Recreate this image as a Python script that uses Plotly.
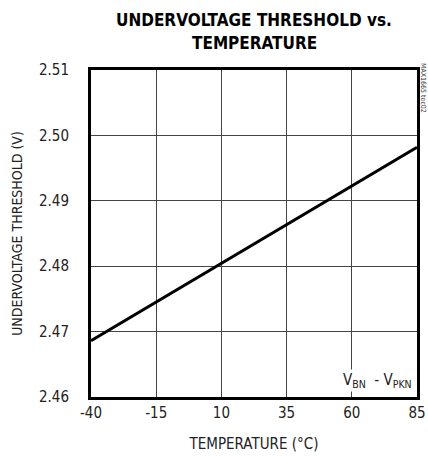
import plotly.graph_objects as go

temperature = [-40, 85]
threshold = [2.4686, 2.4982]
x_ticks = [-40, -15, 10, 35, 60, 85]
x_tick_labels = ["-40", "-15", "10", "35", "60", "85"]
y_ticks = [2.46, 2.47, 2.48, 2.49, 2.50, 2.51]
y_tick_labels = ["2.46", "2.47", "2.48", "2.49", "2.50", "2.51"]

FONT = "DejaVu Sans Condensed, Liberation Sans Narrow, Arial Narrow, Liberation Sans, sans-serif"

fig = go.Figure()
fig.add_trace(go.Scatter(x=temperature, y=threshold, mode="lines",
                         line=dict(color="black", width=3), showlegend=False))

fig.update_layout(
    width=428, height=458,
    margin=dict(l=91, r=11, t=70, b=61),
    paper_bgcolor="white", plot_bgcolor="white",
    font=dict(family=FONT, size=14, color="#222"),
    xaxis=dict(range=[-40, 85], tickvals=x_ticks, ticktext=x_tick_labels, showgrid=True,
               gridcolor="#444", gridwidth=1, zeroline=False, automargin=False,
               showline=True, linecolor="black", linewidth=3, mirror=True,
               ticks="", tickfont=dict(size=15),
               title=dict(text="TEMPERATURE (°C)", font=dict(size=15), standoff=18)),
    yaxis=dict(range=[2.46, 2.51], tickvals=y_ticks, ticktext=y_tick_labels,
               showgrid=True, gridcolor="#444", gridwidth=1, zeroline=False, automargin=False,
               showline=True, linecolor="black", linewidth=3, mirror=True,
               ticks="", tickfont=dict(size=15), ticklabelstandoff=16,
               title=dict(text="UNDERVOLTAGE THRESHOLD (V)", font=dict(size=14), standoff=14)),
)

for txt, shift in [("<b>UNDERVOLTAGE THRESHOLD vs.</b>", 50), ("<b>TEMPERATURE</b>", 27)]:
    fig.add_annotation(x=0.5, y=1.0, xref="paper", yref="paper", xanchor="center",
                       yanchor="middle", yshift=shift, text=txt, showarrow=False,
                       font=dict(family=FONT, size=17, color="black"))

fig.add_annotation(x=84, y=2.4625, xref="x", yref="y", xanchor="right", yanchor="middle",
                   text="V<sub>BN</sub>  - V<sub>PKN</sub>", showarrow=False,
                   bgcolor="white", font=dict(size=15, color="#222"))
fig.add_annotation(x=1.0, y=1.0, xref="paper", yref="paper", xanchor="center", yanchor="top",
                   xshift=6, yshift=8, borderpad=0,
                   text="MAX1665 toc02", textangle=90, showarrow=False,
                   font=dict(size=7, color="#333"))

fig.write_html("out.html")
